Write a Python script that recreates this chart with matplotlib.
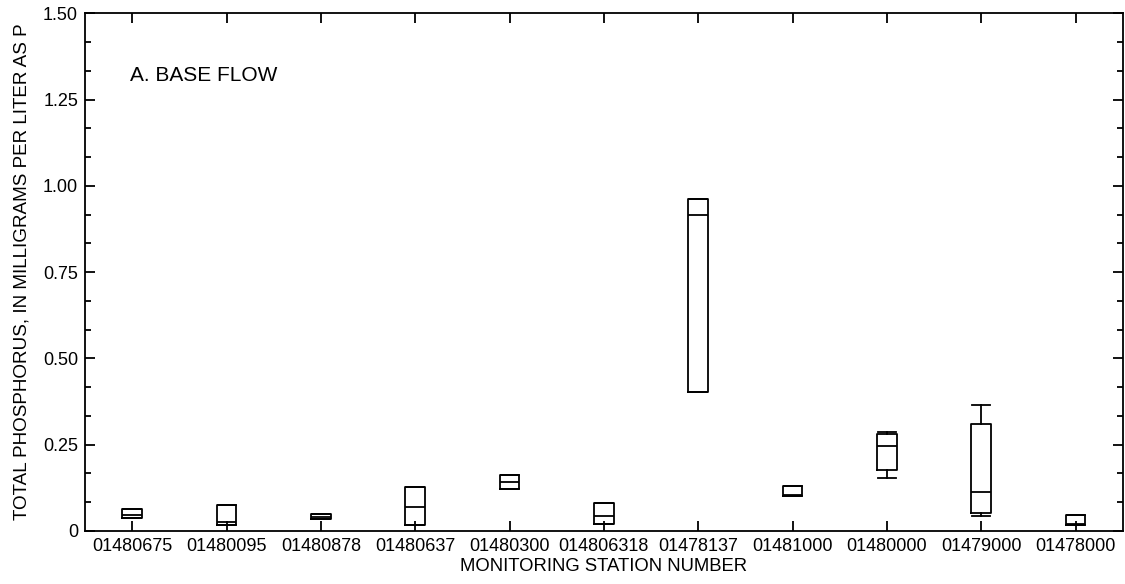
import matplotlib
matplotlib.use("Agg")
import matplotlib.pyplot as plt
from matplotlib.ticker import MultipleLocator, FixedLocator, FixedFormatter

plt.rcParams['font.family'] = ['Liberation Sans', 'DejaVu Sans']

# station numbers, left to right
stations = ["01480675", "01480095", "01480878", "01480637", "01480300",
            "014806318", "01478137", "01481000", "01480000", "01479000",
            "01478000"]

# box statistics (mg/L as P)
whisker_low = [0.038, 0.017, 0.033, 0.0165, 0.122, 0.021, 0.403, 0.100, 0.154, 0.043, 0.018]
q1 = [0.038, 0.017, 0.033, 0.0165, 0.122, 0.021, 0.403, 0.100, 0.176, 0.053, 0.018]
median = [0.045, 0.026, 0.040, 0.070, 0.143, 0.043, 0.915, 0.105, 0.246, 0.113, 0.021]
q3 = [0.063, 0.0745, 0.048, 0.128, 0.163, 0.081, 0.961, 0.130, 0.280, 0.310, 0.047]
whisker_high = [0.063, 0.0745, 0.048, 0.128, 0.163, 0.081, 0.961, 0.130, 0.287, 0.365, 0.047]

ytick_vals = [0, 0.25, 0.50, 0.75, 1.00, 1.25, 1.50]
ytick_text = ["0", "0.25", "0.50", "0.75", "1.00", "1.25", "1.50"]

stats = []
for i in range(len(stations)):
    stats.append({"whislo": whisker_low[i], "q1": q1[i], "med": median[i],
                  "q3": q3[i], "whishi": whisker_high[i], "fliers": []})

fig = plt.figure(figsize=(11.25, 5.84), dpi=100)
ax = fig.add_subplot(111)
fig.subplots_adjust(left=0.0756, right=0.998, top=0.977, bottom=0.091)

positions = list(range(1, len(stations) + 1))
lw = 1.3
ax.bxp(stats, positions=positions, widths=0.21, capwidths=0.19,
       showfliers=False,
       boxprops=dict(color="black", linewidth=lw),
       medianprops=dict(color="black", linewidth=lw),
       whiskerprops=dict(color="black", linewidth=lw),
       capprops=dict(color="black", linewidth=lw))

ax.set_xlim(0.5, len(stations) + 0.5)
ax.set_ylim(0, 1.5)

ax.xaxis.set_major_locator(FixedLocator(positions))
ax.xaxis.set_major_formatter(FixedFormatter(stations))
ax.yaxis.set_major_locator(FixedLocator(ytick_vals))
ax.yaxis.set_major_formatter(FixedFormatter(ytick_text))
ax.yaxis.set_minor_locator(MultipleLocator(0.25 / 3))

ax.tick_params(axis="both", which="major", direction="in", length=7.5,
               width=lw, labelsize=13, top=True, right=True, pad=5)
ax.tick_params(axis="y", which="minor", direction="in", length=4.5,
               width=lw, right=True)
ax.tick_params(axis="x", which="minor", bottom=False, top=False)

for s in ax.spines.values():
    s.set_linewidth(lw)

ax.set_xlabel("MONITORING STATION NUMBER", fontsize=13.3, labelpad=2)
ax.set_ylabel("TOTAL PHOSPHORUS, IN MILLIGRAMS PER LITER AS P", fontsize=13.6, labelpad=9)

ax.text(0.98, 1.32, "A. BASE FLOW", fontsize=15, va="center", ha="left")

fig.savefig("out.png", dpi=100)
